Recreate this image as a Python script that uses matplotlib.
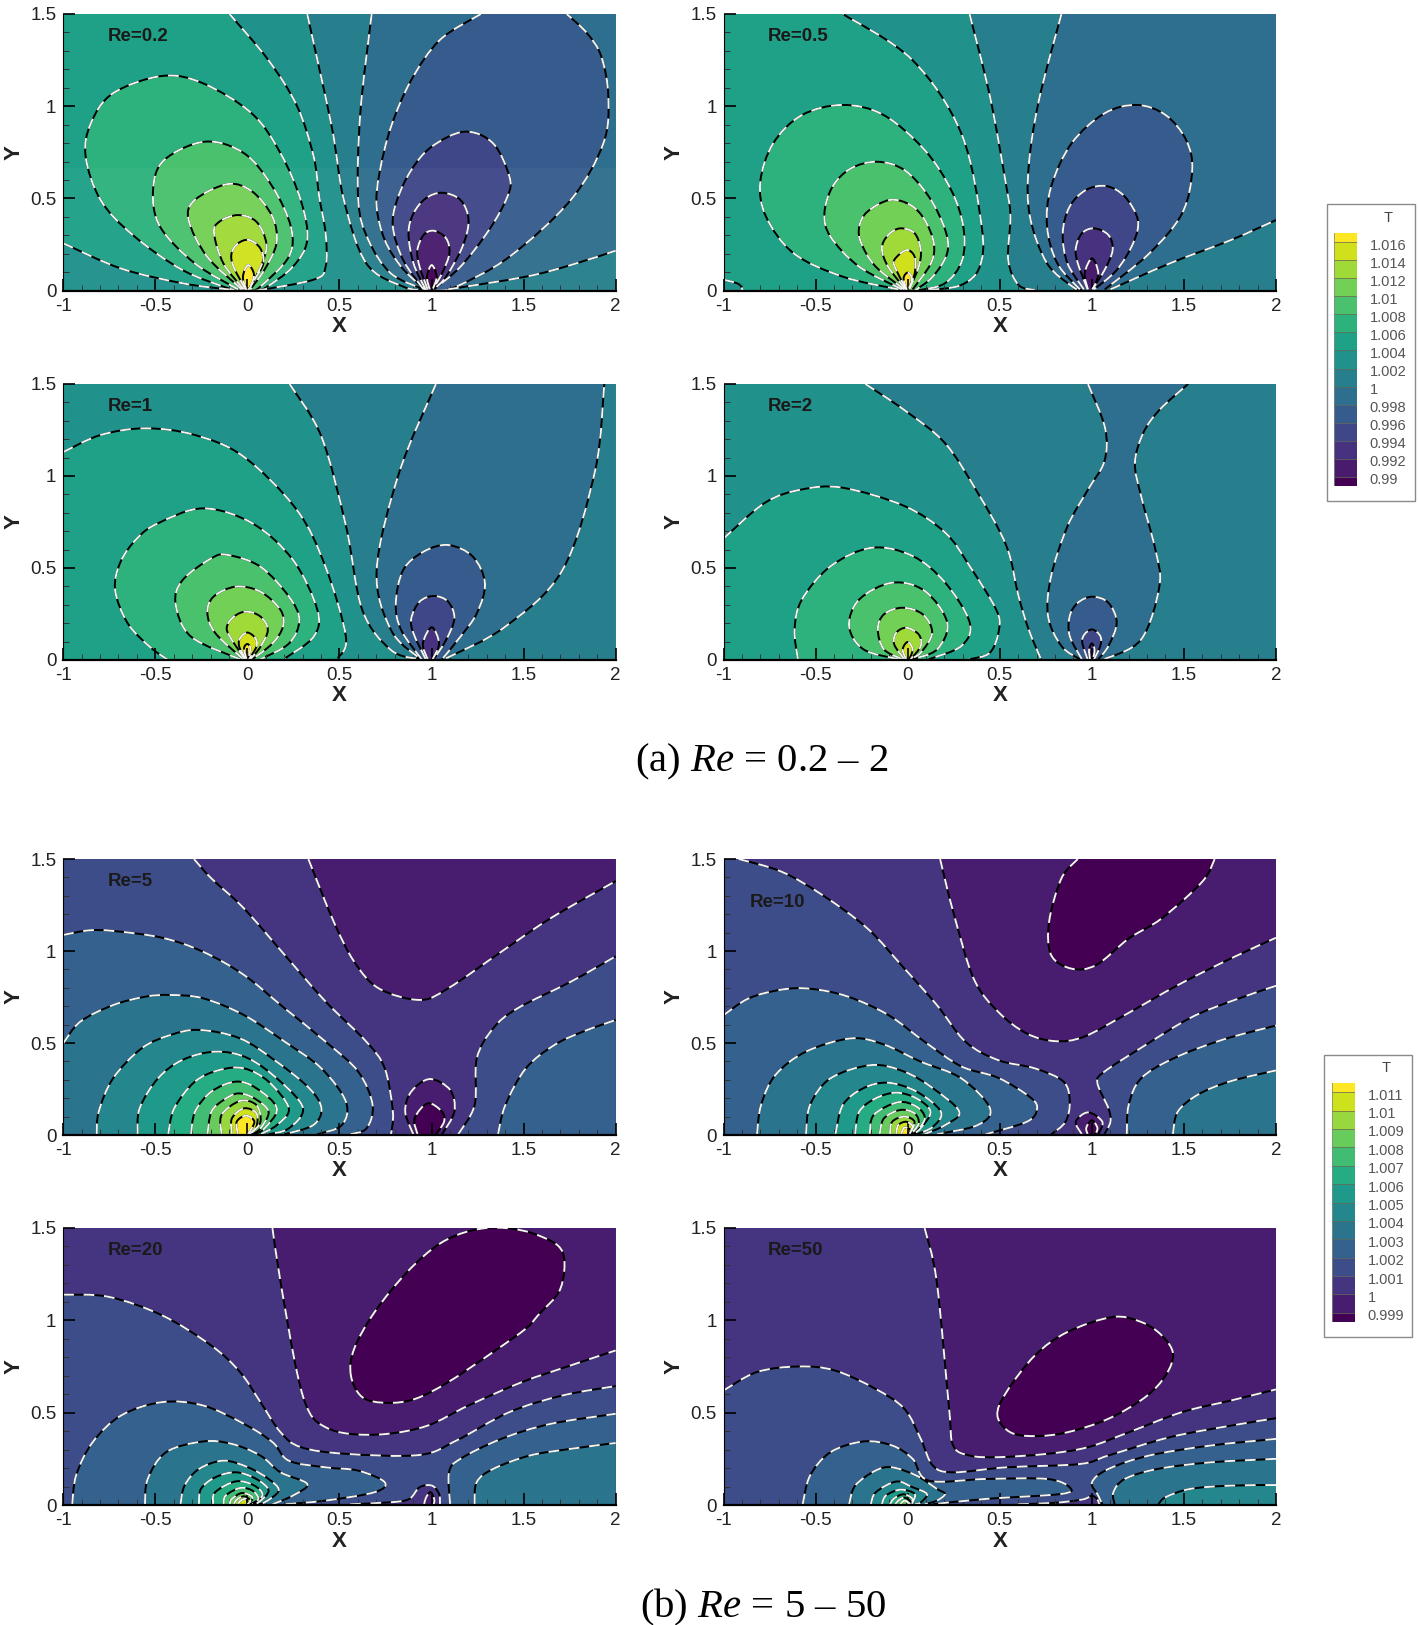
import numpy as np
import matplotlib
matplotlib.use('Agg')
import matplotlib.pyplot as plt
from matplotlib.colors import BoundaryNorm
from matplotlib.patches import PathPatch, Rectangle
from matplotlib.path import Path

plt.rcParams['font.family'] = ['Liberation Sans', 'DejaVu Sans']
plt.rcParams['mathtext.fontset'] = 'custom'
plt.rcParams['mathtext.rm'] = 'Liberation Serif'
plt.rcParams['mathtext.it'] = 'Liberation Serif:italic'

# Isotherms: (T level, side that is filled, pieces of the line).
# A piece with one point is only a corner of the filled area, it is not stroked.
RE_02 = [
    (1.002, 'lo', [[(.325, 1.5), (.458, .889), (.524, .492), (.646, .148), (.846, .022), (.98, 0)], [(2, 0)], [(2, 1.5)]]),
    (1.000, 'lo', [[(.675, 1.5), (.613, .96), (.602, .492), (.657, .275), (.779, .094), (.957, .007)],
                   [(1.09, .007), (1.512, .076), (1.756, .139), (2, .217)], [(2, 1.5)]]),
    (1.004, 'hi', [[(-1, .257), (-.685, .12), (-.35, .04), (-.105, .007), (-.03, 0)],
                   [(.05, 0), (.36, .06), (.425, .13), (.425, .31), (.39, .51), (.36, .727), (.27, 1.0), (.114, 1.25), (-.097, 1.5)], [(-1, 1.5)]]),
    (1.006, 'hi', [[(-.04, 0), (-.085, .007), (-.352, .112), (-.62, .30), (-.796, .49), (-.878, .727), (-.85, .907), (-.73, 1.07), (-.463, 1.164),
                    (-.24, 1.124), (.025, .96), (.18, .745), (.29, .49), (.325, .275), (.247, .13), (.093, .013), (.03, 0)]]),
    (1.008, 'hi', [[(-.05, .007), (-.285, .148), (-.474, .347), (-.512, .546), (-.452, .708), (-.23, .808), (-.018, .745), (.136, .564),
                    (.236, .347), (.225, .184), (.07, .022), (.02, 0)]]),
    (1.010, 'hi', [[(-.03, .007), (-.218, .184), (-.319, .383), (-.285, .492), (-.107, .578), (.027, .537), (.136, .401), (.158, .257), (.092, .112), (.015, .007)]]),
    (1.012, 'hi', [[(-.02, .007), (-.13, .148), (-.181, .311), (-.152, .374), (-.052, .41), (.049, .374), (.103, .257), (.08, .148), (.009, .007)]]),
    (1.014, 'hi', [[(-.01, .007), (-.075, .13), (-.086, .202), (-.05, .257), (.009, .275), (.07, .23), (.087, .148), (.037, .058), (.004, .003)]]),
    (1.016, 'hi', [[(-.005, 0), (-.024, .076), (.004, .139), (.036, .085), (.008, 0)]]),
    (0.998, 'lo', [[(1.268, 1.5), (1.046, 1.36), (.89, 1.142), (.78, .889), (.717, .636), (.702, .455), (.746, .275), (.835, .13), (.946, .022), (.98, 0)],
                   [(1.03, 0), (1.134, .022), (1.423, .184), (1.756, .492), (1.933, .799), (1.96, 1.052), (1.922, 1.269), (1.845, 1.395), (1.734, 1.5)]]),
    (0.996, 'lo', [[(.957, .007), (.846, .166), (.79, .347), (.813, .492), (.89, .654), (1.001, .781), (1.179, .862), (1.334, .799), (1.423, .618),
                    (1.412, .51), (1.312, .329), (1.157, .13), (1.012, .007)]]),
    (0.994, 'lo', [[(.968, .007), (.902, .148), (.875, .311), (.902, .419), (.968, .5), (1.057, .531), (1.157, .492), (1.201, .383), (1.168, .239), (1.079, .076), (1.012, .007)]]),
    (0.992, 'lo', [[(.979, .007), (.935, .13), (.923, .22), (.957, .302), (1.012, .325), (1.079, .284), (1.097, .202), (1.057, .094), (1.006, .007)]]),
    (0.990, 'lo', [[(.99, .007), (.975, .076), (1.001, .139), (1.028, .076), (1.006, .007)]]),
]

RE_05 = [
    (1.002, 'lo', [[(.336, 1.5), (.447, 1.052), (.536, .564), (.558, .401), (.546, .166), (.602, .031), (.69, .004)], [(2, 0)], [(2, 1.5)]]),
    (1.000, 'lo', [[(.835, 1.5), (.713, 1.034), (.657, .672), (.664, .401), (.757, .148), (.901, .018), (.946, .004)],
                   [(1.101, .007), (1.423, .148), (1.756, .275), (2, .383)], [(2, 1.5)]]),
    (1.004, 'hi', [[(-1, .06), (-.918, .036), (-.895, 0)],
                   [(.114, .003), (.291, .031), (.391, .13), (.402, .347), (.291, .853), (.025, 1.251), (-.352, 1.5)], [(-1, 1.5)]]),
    (1.006, 'hi', [[(-.05, .007), (-.352, .076), (-.618, .202), (-.769, .401), (-.8, .591), (-.73, .799), (-.574, .952), (-.352, 1.007), (-.13, .952),
                    (.092, .763), (.236, .546), (.302, .347), (.296, .166), (.202, .04), (.047, 0)]]),
    (1.008, 'hi', [[(-.03, .007), (-.263, .13), (-.419, .293), (-.452, .419), (-.408, .564), (-.308, .663), (-.164, .699), (-.018, .654), (.115, .51),
                    (.204, .329), (.214, .202), (.136, .076), (.038, 0)]]),
    (1.010, 'hi', [[(-.018, .007), (-.173, .13), (-.252, .257), (-.263, .347), (-.219, .428), (-.097, .492), (.016, .464), (.093, .383), (.142, .257), (.126, .148), (.027, .007)]]),
    (1.012, 'hi', [[(-.011, .007), (-.106, .13), (-.14, .23), (-.106, .302), (-.04, .338), (.038, .311), (.071, .22), (.06, .13), (.009, .007)]]),
    (1.014, 'hi', [[(-.007, .007), (-.062, .112), (-.073, .166), (-.007, .22), (.038, .184), (.038, .094), (.004, .007)]]),
    (1.016, 'hi', [[(-.004, 0), (-.022, .067), (0, .098), (.022, .067), (.004, 0)]]),
    (0.998, 'lo', [[(.935, .007), (.813, .148), (.757, .347), (.779, .564), (.89, .799), (1.068, .961), (1.245, 1.007), (1.401, .952), (1.512, .817),
                    (1.545, .654), (1.49, .419), (1.312, .202), (1.07, .007)]]),
    (0.996, 'lo', [[(.957, .007), (.868, .148), (.842, .311), (.879, .455), (.968, .546), (1.079, .567), (1.179, .51), (1.25, .383), (1.224, .257), (1.135, .112), (1.012, .007)]]),
    (0.994, 'lo', [[(.977, .007), (.924, .148), (.913, .23), (.946, .311), (1.012, .338), (1.09, .302), (1.113, .22), (1.069, .112), (1.002, .007)]]),
    (0.992, 'lo', [[(.979, .007), (.961, .094), (1.001, .175), (1.035, .094), (1.006, .007)]]),
]

RE_1 = [
    (1.002, 'lo', [[(.229, 1.5), (.402, 1.214), (.536, .725), (.624, .272), (.78, .054), (.935, .004)], [(2, 0)], [(2, 1.5)]]),
    (1.000, 'lo', [[(1.024, 1.5), (.824, 1.018), (.702, .489), (.78, .163), (.935, .009)],
                   [(1.079, .009), (1.4, .181), (1.711, .489), (1.889, 1.033), (1.938, 1.5)]]),
    (1.004, 'hi', [[(-1, 1.13), (-.796, 1.223), (-.552, 1.259), (-.286, 1.223), (-.02, 1.105), (.269, .815), (.424, .507), (.535, .127), (.491, .009)], [(-1, 0)]]),
    (1.006, 'hi', [[(-.43, 0), (-.53, .072), (-.65, .2), (-.718, .38), (-.69, .53), (-.6, .66), (-.485, .743), (-.241, .824), (.027, .743), (.248, .543), (.38, .272), (.36, .127), (.204, .009)]]),
    (1.008, 'hi', [[(-.04, .004), (-.306, .127), (-.39, .308), (-.351, .435), (-.195, .553), (-.106, .571), (.071, .507), (.226, .344), (.282, .217), (.226, .09), (.071, .004)]]),
    (1.010, 'hi', [[(-.022, .004), (-.173, .145), (-.217, .254), (-.184, .344), (-.062, .399), (.071, .371), (.18, .272), (.193, .181), (.136, .09), (.027, .004)]]),
    (1.012, 'hi', [[(-.013, .004), (-.095, .127), (-.111, .181), (-.073, .236), (-.007, .263), (.071, .236), (.111, .163), (.071, .072), (.016, .004)]]),
    (1.014, 'hi', [[(-.009, .004), (-.044, .072), (-.04, .118), (0, .149), (.044, .118), (.049, .072), (.009, .004)]]),
    (1.016, 'hi', [[(-.004, 0), (-.018, .063), (0, .087), (.016, .063), (.004, 0)]]),
    (0.998, 'lo', [[(.946, .004), (.835, .163), (.806, .308), (.846, .489), (.957, .589), (1.09, .625), (1.224, .562), (1.29, .417), (1.246, .254), (1.157, .127), (1.057, .004)]]),
    (0.996, 'lo', [[(.968, .004), (.902, .145), (.89, .226), (.935, .317), (1.012, .348), (1.09, .317), (1.124, .226), (1.079, .109), (1.012, .004)]]),
    (0.994, 'lo', [[(.979, .004), (.953, .09), (1.001, .178), (1.041, .09), (1.006, .004)]]),
]

RE_2 = [
    (1.002, 'lo', [[(-.23, 1.5), (-.019, 1.359), (.203, 1.178), (.38, .909), (.536, .62), (.602, .347), (.657, .166), (.724, .004)], [(2, 0)], [(2, 1.5)]]),
    (1.004, 'hi', [[(-1, .66), (-.774, .855), (-.574, .927), (-.352, .936), (-.018, .837), (.204, .692), (.336, .511), (.48, .275), (.496, .166), (.447, .04), (.335, .004)], [(-1, 0)]]),
    (1.006, 'hi', [[(-.596, .004), (-.614, .166), (-.574, .329), (-.418, .51), (-.195, .61), (.027, .565), (.204, .42), (.337, .203), (.291, .076), (.115, .004)]]),
    (1.008, 'hi', [[(-.051, .004), (-.24, .058), (-.318, .185), (-.262, .33), (-.084, .42), (.093, .375), (.215, .203), (.16, .058), (.027, .004)]]),
    (1.010, 'hi', [[(-.029, .004), (-.129, .058), (-.162, .166), (-.129, .248), (-.029, .284), (.082, .248), (.133, .148), (.071, .04), (.009, .004)]]),
    (1.012, 'hi', [[(-.018, .004), (-.073, .085), (-.062, .148), (-.007, .175), (.06, .139), (.071, .076), (.016, .004)]]),
    (1.014, 'hi', [[(-.009, .004), (-.027, .058), (0, .098), (.027, .058), (.009, .004)]]),
    (1.000, 'lo', [[(.979, 1.5), (1.072, 1.26), (1.068, 1.08), (.979, .926), (.868, .727), (.779, .456), (.762, .239), (.835, .076), (.935, .004)],
                   [(1.068, .004), (1.268, .112), (1.367, .402), (1.345, .6), (1.268, .889), (1.234, 1.07), (1.279, 1.233), (1.368, 1.36), (1.523, 1.5)]]),
    (0.998, 'lo', [[(.946, .004), (.88, .13), (.88, .239), (.924, .311), (1.002, .344), (1.09, .311), (1.135, .203), (1.09, .076), (1.035, .004)]]),
    (0.996, 'lo', [[(.977, .004), (.948, .094), (.96, .139), (1.002, .166), (1.046, .13), (1.046, .076), (1.012, .004)]]),
    (0.994, 'lo', [[(.99, .004), (.985, .055), (1.0, .09), (1.015, .055), (1.006, .004)]]),
]

RE_5 = [
    (1.000, 'lo', [[(.331, 1.5), (.469, 1.159), (.58, .942), (.713, .797), (.935, .734), (1.09, .797), (1.379, .996), (1.645, 1.177), (2, 1.38)], [(2, 1.5)]]),
    (1.001, 'hi', [[(-.29, 1.5), (-.196, 1.395), (-.019, 1.232), (.203, .978), (.425, .725), (.646, .507), (.746, .362), (.79, .127), (.78, .004)], [(-1, 0)], [(-1, 1.5)]]),
    (1.001, 'hi', [[(1.145, .004), (1.234, .163), (1.246, .417), (1.335, .58), (1.468, .689), (1.756, .833), (2, .971)], [(2, 0)]]),
    (1.002, 'hi', [[(-1, 1.087), (-.862, 1.112), (-.729, 1.109), (-.463, 1.072), (-.241, .996), (-.019, .87), (.203, .688), (.425, .507), (.602, .344), (.68, .163), (.647, .036), (.558, .004)], [(-1, 0)]]),
    (1.002, 'hi', [[(1.361, .004), (1.401, .163), (1.512, .362), (1.667, .489), (1.823, .562), (2, .625)], [(2, 0)]]),
    (1.003, 'hi', [[(-1, .498), (-.907, .616), (-.729, .706), (-.552, .752), (-.419, .761), (-.241, .743), (-.019, .652), (.203, .507), (.402, .362), (.535, .181), (.513, .054), (.38, .004)], [(-1, 0)]]),
    (1.004, 'hi', [[(-.818, .004), (-.807, .127), (-.729, .308), (-.574, .471), (-.419, .543), (-.263, .571), (-.04, .525), (.158, .399), (.336, .254), (.402, .145), (.358, .054), (.203, .004)]]),
    (1.005, 'hi', [[(-.596, .004), (-.585, .145), (-.485, .308), (-.352, .408), (-.173, .453), (.004, .417), (.18, .29), (.302, .145), (.225, .036), (.115, .004)]]),
    (1.006, 'hi', [[(-.43, .004), (-.397, .145), (-.285, .29), (-.152, .353), (-.018, .362), (.115, .29), (.225, .145), (.16, .054), (.071, .004)]]),
    (1.007, 'hi', [[(-.306, .004), (-.284, .127), (-.195, .236), (-.062, .29), (.049, .254), (.16, .145), (.093, .036), (.038, .004)]]),
    (1.008, 'hi', [[(-.217, .004), (-.195, .127), (-.129, .19), (-.051, .226), (.038, .199), (.115, .127), (.071, .036), (.027, .004)]]),
    (1.009, 'hi', [[(-.14, .004), (-.14, .109), (-.04, .185), (.049, .163), (.071, .072), (.016, .004)]]),
    (1.010, 'hi', [[(-.084, .004), (-.084, .09), (-.018, .145), (.049, .118), (.049, .045), (.009, .004)]]),
    (1.011, 'hi', [[(-.051, .004), (-.058, .072), (-.007, .105), (.038, .072), (.004, .004)]]),
    (1.000, 'lo', [[(.901, .004), (.857, .127), (.89, .236), (.99, .304), (1.101, .245), (1.124, .127), (1.057, .004)]]),
    (0.999, 'lo', [[(.924, .004), (.908, .09), (.979, .172), (1.057, .127), (1.068, .072), (1.024, .004)]]),
]

RE_10 = [
    (1.000, 'lo', [[(.176, 1.5), (.247, 1.214), (.358, .851), (.491, .67), (.646, .552), (.802, .51), (.957, .534), (1.179, .652), (1.468, .815), (1.756, .96), (2, 1.072)], [(2, 1.5)]]),
    (0.999, 'lo', [[(.924, 1.5), (.835, 1.395), (.768, 1.159), (.779, .978), (.89, .904), (1.024, .924), (1.201, 1.068), (1.379, 1.177), (1.6, 1.377), (1.667, 1.5)]]),
    (1.001, 'hi', [[(-.918, 1.5), (-.685, 1.431), (-.463, 1.304), (-.219, 1.123), (-.019, .906), (.158, .707), (.314, .507), (.491, .407), (.691, .362), (.846, .29), (.88, .181), (.857, .072), (.78, .004)], [(-1, 0)], [(-1, 1.5)]]),
    (1.001, 'hi', [[(2, .811), (1.756, .727), (1.534, .636), (1.268, .474), (1.068, .344), (1.03, .284), (1.09, .145), (1.101, .072), (1.068, .004)], [(2, 0)]]),
    (1.002, 'hi', [[(-1, .651), (-.862, .743), (-.685, .79), (-.53, .795), (-.33, .754), (-.108, .654), (.092, .507), (.291, .373), (.491, .311), (.668, .203), (.702, .139), (.647, .072), (.424, .004)], [(-1, 0)]]),
    (1.002, 'hi', [[(1.19, .004), (1.2, .163), (1.268, .308), (1.445, .417), (1.711, .518), (2, .595)], [(2, 0)]]),
    (1.003, 'hi', [[(1.44, .004), (1.467, .127), (1.579, .221), (1.756, .293), (2, .351)], [(2, 0)]]),
    (1.003, 'hi', [[(-.818, .004), (-.796, .163), (-.718, .326), (-.552, .453), (-.308, .525), (-.13, .492), (.07, .399), (.291, .308), (.447, .145), (.38, .054), (.158, .004)]]),
    (1.004, 'hi', [[(-.552, .004), (-.53, .163), (-.419, .308), (-.197, .38), (-.018, .344), (.137, .254), (.28, .127), (.203, .054), (.09, .004)]]),
    (1.005, 'hi', [[(-.392, .004), (-.352, .163), (-.241, .254), (-.107, .284), (.048, .236), (.18, .127), (.137, .045), (.048, .004)]]),
    (1.006, 'hi', [[(-.285, .004), (-.263, .127), (-.174, .199), (-.062, .23), (.048, .199), (.124, .127), (.07, .036), (.027, .004)]]),
    (1.007, 'hi', [[(-.206, .004), (-.184, .109), (-.052, .178), (.048, .154), (.093, .09), (.038, .004)]]),
    (1.008, 'hi', [[(-.152, .004), (-.129, .09), (-.04, .136), (.037, .118), (.06, .063), (.016, .004)]]),
    (1.009, 'hi', [[(-.096, .004), (-.084, .072), (-.018, .1), (.037, .072), (.009, .004)]]),
    (1.010, 'hi', [[(-.062, .004), (-.051, .054), (-.007, .072), (.027, .045), (.004, .004)]]),
    (1.011, 'hi', [[(-.036, .004), (-.018, .04), (.016, .027), (0, .004)]]),
    (1.000, 'lo', [[(.946, .004), (.913, .072), (.979, .123), (1.057, .072), (1.035, .004)]]),
    (0.999, 'lo', [[(.977, .004), (.97, .04), (1.0, .08), (1.03, .04), (1.02, .004)]]),
]

RE_20 = [
    (1.000, 'lo', [[(.136, 1.5), (.18, 1.208), (.269, .72), (.336, .503), (.425, .421), (.558, .385), (.758, .385), (.979, .43), (1.201, .539), (1.49, .665), (1.756, .756), (2, .837)], [(2, 1.5)]]),
    (0.999, 'lo', [[(.562, .702), (.58, .846), (.691, 1.045), (.868, 1.262), (1.046, 1.416), (1.223, 1.488), (1.4, 1.5), (1.578, 1.461), (1.711, 1.371), (1.7, 1.172), (1.578, 1.027),
                    (1.512, .955), (1.334, .828), (1.09, .665), (.912, .575), (.757, .553), (.624, .584), (.562, .702)]]),
    (1.001, 'hi', [[(-1, 1.139), (-.752, 1.127), (-.463, 1.027), (-.197, .864), (-.04, .72), (.071, .557), (.18, .394), (.291, .313), (.535, .277), (.935, .271), (1.135, .349), (1.423, .503), (1.711, .593), (2, .644)], [(2, 0)], [(-1, 0)]]),
    (1.002, 'hi', [[(-.951, .004), (-.929, .163), (-.84, .34), (-.685, .485), (-.463, .557), (-.241, .539), (-.018, .439), (.137, .34), (.225, .24), (.425, .204), (.602, .186), (.746, .123), (.69, .069), (.425, .024), (.203, .004)]]),
    (1.002, 'hi', [[(1.101, .004), (1.095, .177), (1.157, .25), (1.379, .358), (1.645, .439), (2, .494)], [(2, 0)]]),
    (1.003, 'hi', [[(1.234, .004), (1.245, .123), (1.334, .195), (1.534, .268), (1.756, .304), (2, .336)], [(2, 0)]]),
    (1.003, 'hi', [[(-.556, .004), (-.541, .141), (-.441, .286), (-.241, .344), (-.085, .331), (.07, .268), (.18, .177), (.325, .114), (.247, .051), (.137, .004)]]),
    (1.004, 'hi', [[(-.363, .004), (-.341, .105), (-.263, .195), (-.13, .24), (.004, .204), (.115, .141), (.17, .078), (.093, .014), (.048, .004)]]),
    (1.005, 'hi', [[(-.263, .004), (-.252, .087), (-.174, .15), (-.062, .177), (.048, .141), (.115, .078), (.06, .014), (.03, .004)]]),
    (1.006, 'hi', [[(-.186, .004), (-.175, .069), (-.062, .128), (.038, .105), (.082, .054), (.027, .004)]]),
    (1.007, 'hi', [[(-.129, .004), (-.118, .051), (-.04, .092), (.027, .078), (.06, .033), (.016, .004)]]),
    (1.008, 'hi', [[(-.096, .004), (-.084, .033), (-.029, .065), (.027, .042), (.009, .004)]]),
    (1.009, 'hi', [[(-.073, .004), (-.058, .029), (-.018, .047), (.016, .024), (0, .004)]]),
    (1.010, 'hi', [[(-.051, .004), (-.036, .024), (-.007, .033), (.004, .004)]]),
    (1.001, 'lo', [[(.558, .004), (.78, .015), (.879, .033), (.935, .096), (1.002, .105), (1.041, .06), (1.046, .004)]]),
    (1.000, 'lo', [[(.96, .004), (.97, .04), (.995, .07), (1.015, .03), (1.012, .004)]]),
]

RE_50 = [
    (1.000, 'lo', [[(.092, 1.5), (.158, 1.208), (.225, .521), (.247, .322), (.336, .268), (.491, .259), (.757, .277), (.979, .313), (1.201, .394), (1.49, .503), (1.756, .566), (2, .626)], [(2, 1.5)]]),
    (0.999, 'lo', [[(.487, .485), (.536, .611), (.691, .81), (.868, .937), (1.112, 1.018), (1.268, .991), (1.379, .919), (1.441, .819), (1.401, .702), (1.29, .584), (1.09, .467),
                    (.868, .394), (.691, .373), (.557, .394), (.487, .485)]]),
    (1.001, 'hi', [[(-1, .62), (-.818, .72), (-.596, .75), (-.397, .729), (-.175, .629), (-.018, .521), (.071, .358), (.137, .213), (.247, .177), (.535, .204), (.935, .222), (1.09, .268), (1.423, .367), (1.756, .43), (2, .47)], [(2, 0)], [(-1, 0)]]),
    (1.002, 'hi', [[(-.57, .004), (-.53, .159), (-.419, .286), (-.241, .344), (-.084, .322), (.027, .25), (.115, .132), (.425, .141), (.757, .141), (.879, .096), (.835, .06), (.425, .033), (.137, .004)]]),
    (1.002, 'hi', [[(2, .358), (1.645, .322), (1.312, .268), (1.09, .195), (1.001, .123), (1.035, .051), (1.057, .004)], [(2, 0)]]),
    (1.003, 'hi', [[(2, .25), (1.645, .231), (1.356, .195), (1.179, .141), (1.117, .069), (1.124, .004)], [(2, 0)]]),
    (1.004, 'hi', [[(2, .108), (1.756, .105), (1.534, .087), (1.4, .042), (1.362, .004)], [(2, 0)]]),
    (1.003, 'hi', [[(-.318, .004), (-.285, .105), (-.175, .186), (-.085, .204), (.048, .159), (.159, .087), (.203, .06), (.159, .024), (.093, .004)]]),
    (1.004, 'hi', [[(-.2, .004), (-.173, .069), (-.062, .127), (.027, .096), (.104, .06), (.071, .014), (.04, .004)]]),
    (1.005, 'hi', [[(-.14, .004), (-.118, .051), (-.04, .083), (.038, .06), (.022, .004)]]),
    (1.006, 'hi', [[(-.096, .004), (-.073, .036), (-.022, .058), (.027, .033), (.009, .004)]]),
    (1.007, 'hi', [[(-.067, .004), (-.051, .024), (-.018, .04), (.016, .018), (0, .004)]]),
    (1.008, 'hi', [[(-.04, .004), (-.022, .022), (0, .018), (-.004, .004)]]),
    (1.001, 'lo', [[(.6, .004), (.8, .012), (.95, .03), (1.0, .05), (1.03, .03), (1.04, .004)]]),
]

re_labels = ['Re=0.2', 'Re=0.5', 'Re=1', 'Re=2', 'Re=5', 'Re=10', 'Re=20', 'Re=50']
re_contours = [RE_02, RE_05, RE_1, RE_2, RE_5, RE_10, RE_20, RE_50]
background_T = [1.003, 1.003, 1.003, 1.003, 1.0005, 1.0005, 1.0005, 1.0005]
label_pos = [(-.76, 1.38), (-.76, 1.38), (-.76, 1.38), (-.76, 1.38),
             (-.76, 1.38), (-.86, 1.265), (-.76, 1.38), (-.76, 1.38)]

levels_a = [0.99, 0.992, 0.994, 0.996, 0.998, 1.0, 1.002, 1.004, 1.006, 1.008, 1.01, 1.012, 1.014, 1.016]
levels_b = [0.999, 1.0, 1.001, 1.002, 1.003, 1.004, 1.005, 1.006, 1.007, 1.008, 1.009, 1.01, 1.011]
labels_a = ['0.99', '0.992', '0.994', '0.996', '0.998', '1', '1.002', '1.004', '1.006', '1.008', '1.01', '1.012', '1.014', '1.016']
labels_b = ['0.999', '1', '1.001', '1.002', '1.003', '1.004', '1.005', '1.006', '1.007', '1.008', '1.009', '1.01', '1.011']

x_ticks = [-1, -0.5, 0, 0.5, 1, 1.5, 2]
x_tick_labels = ['-1', '-0.5', '0', '0.5', '1', '1.5', '2']
y_ticks = [0, 0.5, 1, 1.5]
y_tick_labels = ['0', '0.5', '1', '1.5']

W, H = 1418, 1625
fig = plt.figure(figsize=(W / 100, H / 100), dpi=100, facecolor='white')


def rect(left, right, top, bottom):
    return [left / W, 1 - bottom / H, (right - left) / W, (bottom - top) / H]


def piece_verts(seg):
    p = np.array(seg, float)
    if (p[0] == p[-1]).all():
        before = np.vstack([p[-2], p[:-1]])
        after = np.vstack([p[1:], p[1]])
    else:
        before = np.vstack([p[0], p[:-1]])
        after = np.vstack([p[1:], p[-1]])
    t = (after - before) / 6
    verts = []
    for i in range(len(p) - 1):
        verts += [p[i] + t[i], p[i + 1] - t[i + 1], p[i + 1]]
    return p[0], verts


def draw_panel(ax, contours, bg, label, pos, step, cmap, norm):
    ax.set_facecolor(cmap(norm(bg)))
    strokes = []
    for level, side, pieces in contours:
        verts, codes = [], []
        for seg in pieces:
            if len(seg) == 1:
                verts.append(seg[0])
                codes.append(Path.LINETO if verts[:-1] else Path.MOVETO)
                continue
            start, curve = piece_verts(seg)
            verts.append(start)
            codes.append(Path.LINETO if verts[:-1] else Path.MOVETO)
            verts += curve
            codes += [Path.CURVE4] * len(curve)
            strokes.append(Path([start] + curve, [Path.MOVETO] + [Path.CURVE4] * len(curve)))
        verts.append(verts[0])
        codes.append(Path.CLOSEPOLY)
        value = level + step / 2 if side == 'hi' else level - step / 2
        ax.add_patch(PathPatch(Path(verts, codes), facecolor=cmap(norm(value)), edgecolor='none', zorder=1))
    for path in strokes:
        ax.add_patch(PathPatch(path, fill=False, edgecolor='black', lw=1.4, capstyle='butt', zorder=1.5))
        ax.add_patch(PathPatch(path, fill=False, edgecolor='#f4f4f0', lw=1.4, ls=(0, (5.5, 5)), capstyle='butt', zorder=1.6))

    ax.set_xlim(-1, 2)
    ax.set_ylim(0, 1.5)
    ax.set_xticks(x_ticks, x_tick_labels)
    ax.set_yticks(y_ticks, y_tick_labels)
    ax.set_xticks(np.arange(-1, 2.01, 0.1), minor=True)
    ax.set_yticks(np.arange(0, 1.51, 0.1), minor=True)
    ax.tick_params(which='major', direction='in', length=8.5, width=1.2, labelsize=13.5, pad=5, labelcolor='#222222')
    ax.tick_params(which='minor', direction='in', length=4, width=0.7, color='#333333')
    ax.spines['top'].set_visible(False)
    ax.spines['right'].set_visible(False)
    ax.spines['bottom'].set_linewidth(1.6)
    ax.spines['left'].set_linewidth(0.8)
    ax.set_xlabel('X', fontsize=16, fontweight='bold', color='#222222', va='center')
    ax.set_ylabel('Y', fontsize=16, fontweight='bold', color='#222222', va='center')
    ax.xaxis.set_label_coords(0.5, -36 / 276)
    ax.yaxis.set_label_coords(-49 / 552, 0.5)
    ax.text(pos[0], pos[1], label, fontsize=13.5, fontweight='bold', va='center', color='#1a1a1a')


def draw_legend(box, bar, levels, labels, step, cmap, norm, title_xy):
    fig.add_artist(Rectangle((box[0] / W, 1 - box[3] / H), (box[1] - box[0]) / W, (box[3] - box[2]) / H,
                             transform=fig.transFigure, facecolor='white', edgecolor='#8a8a8a', lw=1, zorder=-1))
    ax = fig.add_axes(rect(*bar))
    edges = [levels[0] - step] + levels + [levels[-1] + step]
    for low, high in zip(edges[:-1], edges[1:]):
        ax.bar(0.5, high - low, width=1, bottom=low, color=cmap(norm((low + high) / 2)), edgecolor='#5a5a4a', lw=0.4)
    ax.set_xlim(0, 1)
    ax.set_ylim(levels[0] - step / 2, levels[-1] + step / 2)
    ax.axis('off')
    for level, text in zip(levels, labels):
        ax.annotate(text, xy=(1, level), xycoords=('axes fraction', 'data'), xytext=(9, -2.5), textcoords='offset points',
                    va='center', fontsize=10.5, color='#555555', annotation_clip=False)
    fig.text(title_xy[0] / W, 1 - title_xy[1] / H, 'T', fontsize=10.5, color='#444444', ha='center', va='center')


# band colours of the two legends
cmap_a = plt.get_cmap('viridis').resampled(15)
cmap_b = plt.get_cmap('viridis').resampled(14)
norm_a = BoundaryNorm(levels_a, 15, extend='both')
norm_b = BoundaryNorm(levels_b, 14, extend='both')

col_edges = [(63.2, 615.7), (723.5, 1276)]
row_edges = [(14, 290.7), (384, 660), (859, 1135), (1228, 1505)]

for i in range(8):
    left, right = col_edges[i % 2]
    top, bottom = row_edges[i // 2]
    ax = fig.add_axes(rect(left, right, top, bottom))
    if i < 4:
        draw_panel(ax, re_contours[i], background_T[i], re_labels[i], label_pos[i], 0.002, cmap_a, norm_a)
    else:
        draw_panel(ax, re_contours[i], background_T[i], re_labels[i], label_pos[i], 0.001, cmap_b, norm_b)
    if i == 0:
        # the lighter strip in the lower part of the first panel
        ax.axhspan(0, 0.665, facecolor='white', alpha=0.035, zorder=1.2)

draw_legend((1327, 1415, 204, 501), (1334, 1357, 233, 486), levels_a, labels_a, 0.002, cmap_a, norm_a, (1388, 218))
draw_legend((1324, 1412, 1055, 1337), (1332, 1355, 1083, 1322), levels_b, labels_b, 0.001, cmap_b, norm_b, (1386, 1068))

caption = dict(fontsize=29.3, family='Liberation Serif', ha='center', va='center', color='black')
fig.text(762 / W, 1 - 762 / H, r'(a) $\mathit{Re}$ = 0.2 – 2', **caption)
fig.text(763 / W, 1 - 1607 / H, r'(b) $\mathit{Re}$ = 5 – 50', **caption)

fig.savefig('out.png', dpi=100)
